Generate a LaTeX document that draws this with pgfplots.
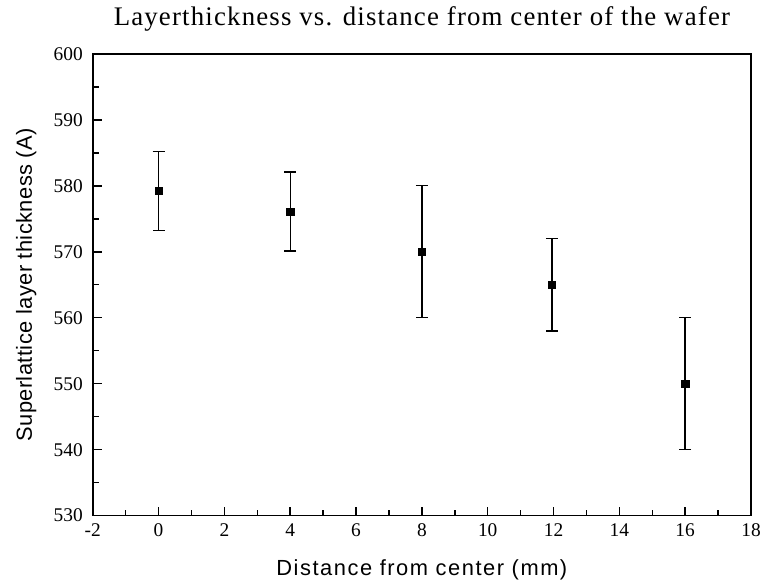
\documentclass[border=0pt]{standalone}
\usepackage{pgfplots}
\pgfplotsset{compat=1.18}
\usepackage{fontspec}
\setmainfont{Liberation Serif}
\newfontfamily\titlefont[LetterSpace=4.4]{Liberation Serif}
\newfontfamily\xlabelfont[LetterSpace=7]{Liberation Sans}
\newfontfamily\ylabelfont[LetterSpace=2]{Liberation Sans}
\begin{document}
\begin{tikzpicture}
\begin{axis}[
  scale only axis, width=660bp, height=463bp,
  xmin=-2, xmax=18, ymin=530, ymax=600,
  xtick={-2,0,...,18}, ytick={530,540,...,600},
  minor xtick={-1,1,...,17}, minor ytick={535,545,...,595},
  tick pos=left, tick align=inside,
  major tick length=9bp, minor tick length=6bp,
  every tick/.style={line width=1.5pt, black},
  axis line style={line width=1.6pt},
  /pgf/number format/assume math mode=true,
  ticklabel style={font=\fontsize{19.5}{22}\selectfont},
  xticklabel style={yshift=-4.5bp},
  yticklabel style={xshift=-6.5bp},
  title={\titlefont\fontsize{27}{30}\selectfont Layerthickness vs. distance from center of the wafer},
  title style={at={([yshift=22bp]axis description cs:0.5,1)}, anchor=base},
  xlabel={\xlabelfont\fontsize{22}{25}\selectfont Distance from center (mm)},
  ylabel={\ylabelfont\fontsize{22}{25}\selectfont Superlattice layer thickness (A)},
  xlabel style={at={([yshift=-60bp]axis description cs:0.5,0)}, anchor=base},
  ylabel style={at={([xshift=-61bp]axis description cs:0,0.5)}, anchor=base},
  clip=false,
]
\addplot[only marks, mark=square*, mark size=3.6bp, black,
  error bars/.cd, y dir=both, y explicit,
  error bar style={line width=1.4pt, black},
  error mark options={rotate=90, mark size=6bp, line width=1.4pt}]
  table[x=x, y=y, y error=e] {
x y e
0 579.2 6
4 576.1 6
8 570 10
11.95 565 7
16 550 10
};
\path (rel axis cs:0,0) ++(-93bp,-67bp) coordinate (bl);
\path (rel axis cs:1,1) ++(11bp,54bp) coordinate (tr);
\path (bl) rectangle (tr);
\end{axis}
\end{tikzpicture}
\end{document}
